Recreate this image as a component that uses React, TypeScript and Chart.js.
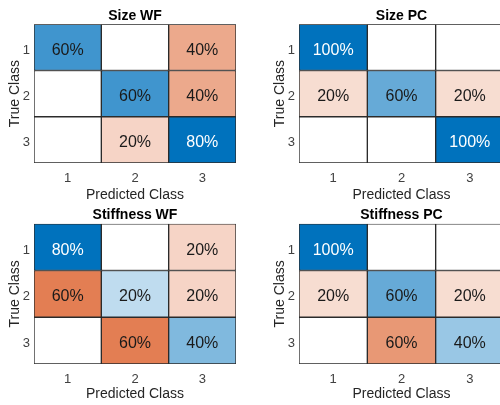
import React, { useEffect, useRef } from 'react';
import { Chart, registerables } from 'chart.js';

Chart.register(...registerables);

const classLabels = ['1', '2', '3'];
const sizeWF = [
  [60, 0, 40],
  [0, 60, 40],
  [0, 20, 80],
];
const sizePC = [
  [100, 0, 0],
  [20, 60, 20],
  [0, 0, 100],
];
const stiffnessWF = [
  [80, 0, 20],
  [60, 20, 20],
  [0, 60, 40],
];
const stiffnessPC = [
  [100, 0, 0],
  [20, 60, 20],
  [0, 60, 40],
];
const panelTitles = ['Size WF', 'Size PC', 'Stiffness WF', 'Stiffness PC'];
const xAxisTitle = 'Predicted Class';
const yAxisTitle = 'True Class';

const BLUE = [0, 114, 189];
const ORANGE = [217, 83, 25];
const FONT = '"Liberation Sans", Arial, Helvetica, sans-serif';
const AXIS_COLOR = '#262626';

function cellColor(v: number, max: number, diag: boolean) {
  if (!v) return '#ffffff';
  const t = v / max;
  const base = diag ? BLUE : ORANGE;
  const c = base.map((b) => Math.round(255 - t * (255 - b)));
  return `rgb(${c[0]},${c[1]},${c[2]})`;
}

type PanelProps = {
  title: string;
  matrix: number[][];
  left: number;
  top: number;
  height: number;
  padRight: number;
  titlePadTop: number;
  xAxisHeight: number;
  xTitlePadBottom: number;
};

function Panel({ title, matrix, left, top, height, padRight, titlePadTop, xAxisHeight, xTitlePadBottom }: PanelProps) {
  const ref = useRef<HTMLCanvasElement | null>(null);
  useEffect(() => {
    if (!ref.current) return;
    const max = Math.max(...matrix.flat());
    const datasets = matrix.map((row, r) => ({
      label: classLabels[r],
      data: row.map(() => [r + 0.5, r + 1.5]),
      backgroundColor: row.map((v, c) => cellColor(v, max, r === c)),
      borderColor: '#2b2b2b',
      borderWidth: 1,
      borderSkipped: false,
      grouped: false,
      barPercentage: 1,
      categoryPercentage: 1,
    }));
    const labelPlugin = {
      id: 'cellLabels',
      afterDatasetsDraw(chart: any) {
        const ctx = chart.ctx;
        ctx.save();
        ctx.font = `16px ${FONT}`;
        ctx.textAlign = 'center';
        ctx.textBaseline = 'middle';
        matrix.forEach((row, r) => {
          const meta = chart.getDatasetMeta(r);
          meta.data.forEach((el: any, c: number) => {
            const v = row[c];
            if (!v) return;
            const p = el.getProps(['x', 'y', 'base'], true);
            const cy = (p.y + p.base) / 2 + 3;
            ctx.fillStyle = v / max >= 0.8 ? '#ffffff' : '#1a1a1a';
            ctx.fillText(`${v}%`, p.x, cy);
          });
        });
        ctx.restore();
      },
    };
    const chart = new Chart(ref.current, {
      type: 'bar',
      data: { labels: classLabels, datasets: datasets as any },
      options: {
        animation: false,
        responsive: false,
        devicePixelRatio: 1,
        layout: { padding: { left: 0, right: padRight, top: 0, bottom: 0 } },
        plugins: {
          legend: { display: false },
          tooltip: { enabled: false },
          title: {
            display: true,
            text: title,
            fullSize: false,
            color: '#000000',
            font: { family: FONT, size: 14, weight: 'bold' },
            padding: { top: titlePadTop, bottom: 0 },
          },
        },
        scales: {
          x: {
            type: 'category',
            offset: true,
            grid: { display: false, drawTicks: false },
            border: { display: false },
            ticks: { color: '#404040', font: { family: FONT, size: 13 }, padding: 8, maxRotation: 0 },
            title: {
              display: true,
              text: xAxisTitle,
              color: AXIS_COLOR,
              font: { family: FONT, size: 14 },
              padding: { top: 0, bottom: xTitlePadBottom },
            },
            afterFit: (s: any) => {
              s.height = xAxisHeight;
            },
          },
          y: {
            type: 'linear',
            min: 0.5,
            max: 3.5,
            reverse: true,
            grid: { display: false, drawTicks: false },
            border: { display: false },
            afterBuildTicks: (axis: any) => {
              axis.ticks = classLabels.map((_, i) => ({ value: i + 1 }));
            },
            ticks: {
              color: '#404040',
              font: { family: FONT, size: 13 },
              padding: 4,
              labelOffset: 3,
              callback: (v: any) => classLabels[Number(v) - 1] ?? '',
            },
            title: {
              display: true,
              text: yAxisTitle,
              color: AXIS_COLOR,
              font: { family: FONT, size: 14 },
              padding: { top: 6.6, bottom: 0 },
            },
            afterFit: (s: any) => {
              s.width = 34;
            },
          },
        },
      } as any,
      plugins: [labelPlugin],
    });
    return () => chart.destroy();
  }, [title, matrix, xAxisHeight, titlePadTop, xTitlePadBottom, padRight]);
  return (
    <canvas
      ref={ref}
      width={250}
      height={height}
      style={{ position: 'absolute', left, top, width: 250, height }}
    />
  );
}

export default function App() {
  return (
    <div
      style={{
        position: 'fixed',
        left: 0,
        top: 0,
        width: 500,
        height: 405,
        overflow: 'hidden',
        background: '#ffffff',
      }}
    >
      <Panel title={panelTitles[0]} matrix={sizeWF} left={0} top={0} height={202} padRight={14} titlePadTop={7.5} xAxisHeight={39} xTitlePadBottom={-2} />
      <Panel title={panelTitles[1]} matrix={sizePC} left={265} top={0} height={202} padRight={11} titlePadTop={7.5} xAxisHeight={39} xTitlePadBottom={-2} />
      <Panel title={panelTitles[2]} matrix={stiffnessWF} left={0} top={202} height={203} padRight={14} titlePadTop={5} xAxisHeight={41} xTitlePadBottom={2} />
      <Panel title={panelTitles[3]} matrix={stiffnessPC} left={265} top={202} height={203} padRight={11} titlePadTop={5} xAxisHeight={41} xTitlePadBottom={2} />
    </div>
  );
}
